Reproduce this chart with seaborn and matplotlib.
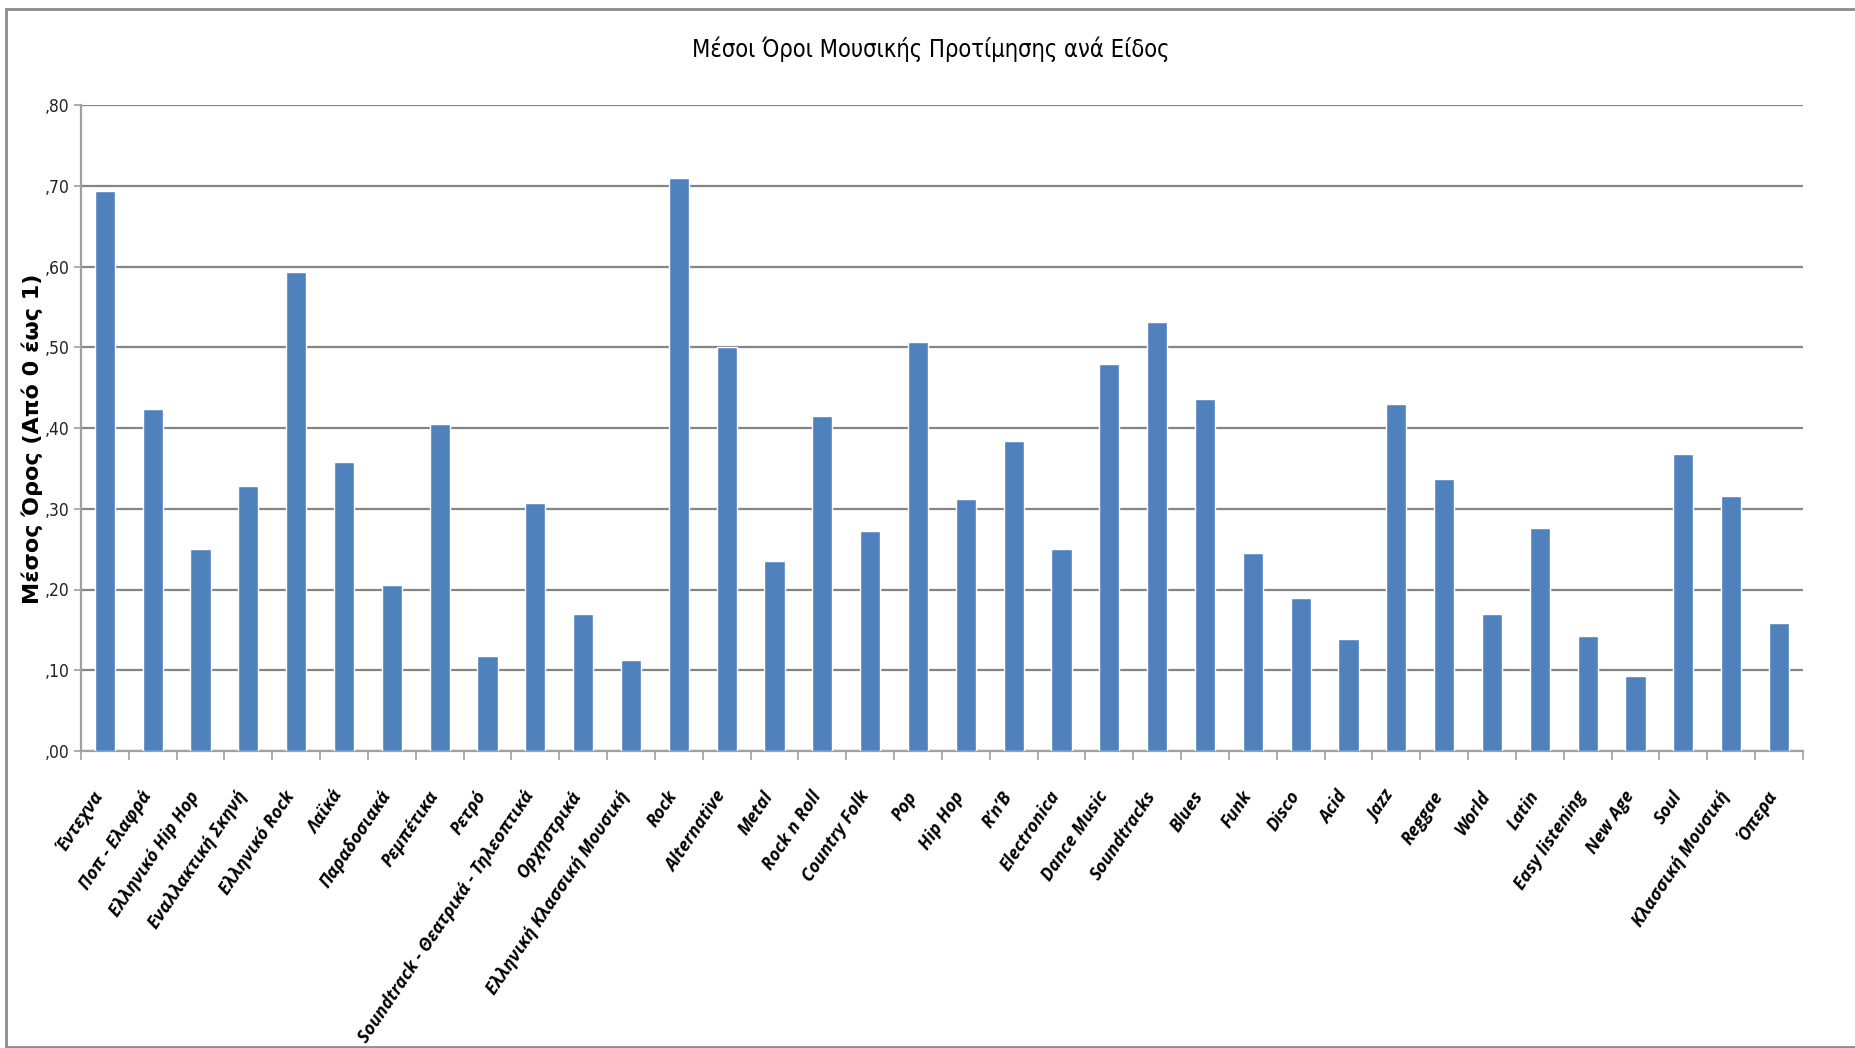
import numpy as np
import pandas as pd
import matplotlib
matplotlib.use("Agg")
import matplotlib.pyplot as plt
import matplotlib.transforms as mtransforms
from matplotlib.lines import Line2D
import seaborn as sns

# Genre names and mean preference scores (scale 0 to 1)
genres = [
    "Έντεχνα", "Ποπ - Ελαφρά", "Ελληνικό Hip Hop", "Εναλλακτική Σκηνή",
    "Ελληνικό Rock", "Λαϊκά", "Παραδοσιακά", "Ρεμπέτικα", "Ρετρό",
    "Soundtrack - Θεατρικά - Τηλεοπτικά", "Ορχηστρικά",
    "Ελληνική Κλασσική Μουσική", "Rock", "Alternative", "Metal",
    "Rock n Roll", "Country Folk", "Pop", "Hip Hop", "R’n’B",
    "Electronica", "Dance Music", "Soundtracks", "Blues", "Funk", "Disco",
    "Acid", "Jazz", "Reggae", "World", "Latin", "Easy listening",
    "New Age", "Soul", "Κλασσική Μουσική", "Όπερα",
]
mean_scores = [
    0.694, 0.423, 0.250, 0.328, 0.593, 0.358, 0.205, 0.405, 0.118,
    0.307, 0.170, 0.113, 0.710, 0.500, 0.235, 0.415, 0.272, 0.507,
    0.312, 0.384, 0.250, 0.479, 0.531, 0.436, 0.245, 0.190, 0.139,
    0.430, 0.337, 0.170, 0.276, 0.143, 0.093, 0.368, 0.316, 0.159,
]
y_ticks = [0.0, 0.1, 0.2, 0.3, 0.4, 0.5, 0.6, 0.7, 0.8]

title_text = "Μέσοι Όροι Μουσικής Προτίμησης ανά Είδος"
ylabel_text = "Μέσος Όρος (Από 0 έως 1)"

df = pd.DataFrame({"genre": genres, "score": mean_scores})

sns.set_theme(style="white")
plt.rcParams["font.family"] = ["DejaVu Sans"]

BAR = "#4F81BD"
GRID = "#858585"
NARROW = ["DejaVu Sans Condensed", "Liberation Sans Narrow", "DejaVu Sans"]

fig = plt.figure(figsize=(18.56, 10.48), dpi=100)
ax = fig.add_axes([0.0436, 0.2834, 0.9278, 0.6164])

sns.barplot(data=df, x="genre", y="score", color=BAR, saturation=1,
            width=0.42, ax=ax, zorder=3)

ax.set_xlim(-0.5, len(genres) - 0.5)
ax.set_ylim(0, 0.8)
ax.set_yticks(y_ticks)
ax.set_yticklabels(["," + f"{v:.2f}".split(".")[1] for v in y_ticks],
                   family=NARROW, fontstretch="condensed",
                   fontsize=12.5, color="#222222")

ax.yaxis.grid(True, color=GRID, linewidth=1.6, zorder=0)
ax.xaxis.grid(False)
ax.set_axisbelow(True)

for side in ("top", "right"):
    ax.spines[side].set_visible(False)
for side in ("left", "bottom"):
    ax.spines[side].set_color("#a0a0a0")
    ax.spines[side].set_linewidth(1.6)

# Tick marks sit on category boundaries; labels stay on the bar centres
ax.set_xticks(np.arange(len(genres)))
ax.set_xticks(np.arange(-0.5, len(genres)), minor=True)
ax.tick_params(axis="x", which="major", length=0)
ax.tick_params(axis="x", which="minor", length=6.5, width=1.2,
               color="#a0a0a0", direction="out", bottom=True)
ax.tick_params(axis="y", which="major", length=5, width=1.2,
               color="#a0a0a0", direction="out", left=True, pad=3)

ax.set_xticklabels(genres, rotation=56, ha="right", va="center",
                   rotation_mode="anchor", fontsize=12.7,
                   family=["Open Sans", "DejaVu Sans"],
                   fontweight="bold", fontstyle="italic", color="black")
offset = mtransforms.ScaledTranslation(-0.05, -0.37, fig.dpi_scale_trans)
for lbl in ax.get_xticklabels():
    lbl.set_transform(lbl.get_transform() + offset)

ax.set_xlabel("")
ax.set_ylabel(ylabel_text, fontsize=16, fontweight="bold", color="black")
ax.yaxis.set_label_coords(-0.022, 0.484)

fig.text(0.5015, 0.953, title_text, ha="center", va="center",
         fontsize=17, family=NARROW, fontstretch="condensed",
         fontweight="medium", color="black")

# Chart-area frame
frame_kw = dict(color="#8c8c8c", linewidth=2, transform=fig.transFigure)
fig.add_artist(Line2D([0.003, 1.0], [0.9915, 0.9915], **frame_kw))
fig.add_artist(Line2D([0.003, 0.003], [0.001, 0.9915], **frame_kw))
fig.add_artist(Line2D([0.003, 1.0], [0.001, 0.001], **frame_kw))

fig.savefig("out.png", dpi=100, facecolor="white")
